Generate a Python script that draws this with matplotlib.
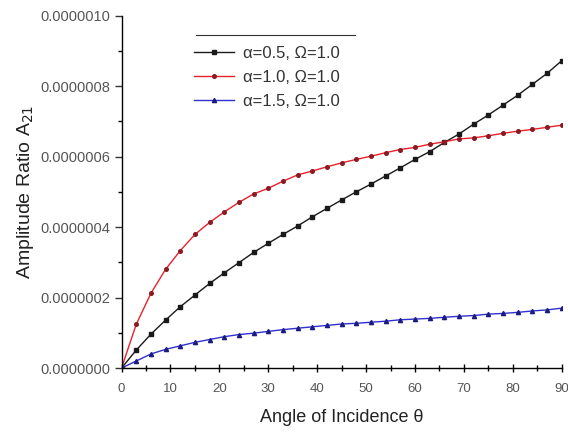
import matplotlib
matplotlib.use("Agg")
import matplotlib.pyplot as plt
from matplotlib.ticker import MultipleLocator, FormatStrFormatter
from matplotlib.lines import Line2D

plt.rcParams['font.family'] = ['Liberation Sans', 'DejaVu Sans']

angles = list(range(0, 91, 3))

ratio_a05 = [0.000, 0.051, 0.096, 0.136, 0.174, 0.207, 0.240, 0.270, 0.299, 0.328,
             0.354, 0.379, 0.403, 0.429, 0.453, 0.477, 0.500, 0.522, 0.545, 0.568,
             0.592, 0.614, 0.640, 0.664, 0.692, 0.718, 0.746, 0.774, 0.805, 0.836,
             0.872]
ratio_a10 = [0.000, 0.124, 0.212, 0.280, 0.333, 0.379, 0.413, 0.443, 0.470, 0.494,
             0.510, 0.530, 0.548, 0.559, 0.571, 0.582, 0.592, 0.601, 0.611, 0.620,
             0.626, 0.635, 0.642, 0.650, 0.653, 0.659, 0.666, 0.672, 0.677, 0.683,
             0.689]
ratio_a15 = [0.000, 0.020, 0.040, 0.053, 0.063, 0.073, 0.081, 0.089, 0.095, 0.099,
             0.104, 0.109, 0.113, 0.117, 0.121, 0.125, 0.127, 0.130, 0.133, 0.137,
             0.139, 0.141, 0.144, 0.147, 0.149, 0.153, 0.155, 0.158, 0.162, 0.165,
             0.170]

labels = ["\u03b1=0.5, \u03a9=1.0", "\u03b1=1.0, \u03a9=1.0", "\u03b1=1.5, \u03a9=1.0"]
scale = 1e-6

fig = plt.figure(figsize=(5.68, 4.32), dpi=100)
ax = fig.add_axes([0.214, 0.148, 0.775, 0.816])

ax.plot(angles, [v * scale for v in ratio_a05], color='#1a1a1a', lw=1.0,
        marker='s', ms=2.5, label=labels[0])
ax.plot(angles, [v * scale for v in ratio_a10], color='#e8212b', lw=1.0,
        marker='o', ms=2.6, mfc='#8b1a22', mec='#8b1a22', label=labels[1])
ax.plot(angles, [v * scale for v in ratio_a15], color='#3030d0', lw=1.0,
        marker='^', ms=3, mfc='#1a1a80', mec='#1a1a80', label=labels[2])

ax.set_xlim(0, 90)
ax.set_ylim(0, 1e-6)
ax.xaxis.set_major_locator(MultipleLocator(10))
ax.xaxis.set_minor_locator(MultipleLocator(5))
ax.yaxis.set_major_locator(MultipleLocator(2e-7))
ax.yaxis.set_minor_locator(MultipleLocator(1e-7))
ax.yaxis.set_major_formatter(FormatStrFormatter('%.7f'))

for side in ('top', 'right'):
    ax.spines[side].set_visible(False)
ax.spines['left'].set_linewidth(1.0)
ax.spines['bottom'].set_linewidth(1.0)

ax.tick_params(axis='y', which='major', direction='out', length=5, width=1,
               labelsize=10.5, pad=3, colors='#333333', labelcolor='#555555')
ax.tick_params(axis='y', which='minor', direction='out', length=3, width=1)
ax.tick_params(axis='x', which='major', direction='inout', length=6, width=1,
               labelsize=9.5, pad=8, labelcolor='#555555')
ax.tick_params(axis='x', which='minor', direction='inout', length=4, width=1)

ax.set_xlabel("Angle of Incidence \u03b8", fontsize=13, color='#222222', labelpad=10)
ax.set_ylabel("Amplitude Ratio A$_{21}$", fontsize=14, color='#222222', labelpad=3)

leg = ax.legend(loc='upper left', bbox_to_anchor=(0.165, 0.914), frameon=False,
                fontsize=12, handlelength=2.4, handletextpad=0.5,
                labelspacing=0.54, borderaxespad=0.0, borderpad=0.0)
for t in leg.get_texts():
    t.set_color('#333333')

# thin rule above the legend block
ax.add_line(Line2D([0.168, 0.530], [0.945, 0.945], transform=ax.transAxes,
                   color='#333333', lw=0.8))

fig.savefig("out.png", dpi=100)
